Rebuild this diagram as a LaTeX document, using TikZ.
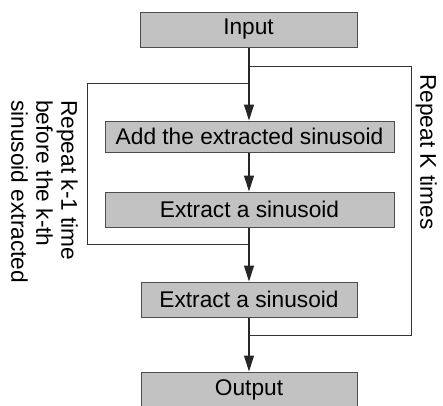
\documentclass[tikz,border=0pt]{standalone}
\usepackage{fontspec}
\setmainfont{Liberation Sans}
\usetikzlibrary{arrows.meta}
\begin{document}
\begin{tikzpicture}[x=1pt,y=-1pt,
  box/.style={draw=black!70,line width=1pt,fill=black!24,inner sep=0pt,
    font=\fontsize{22.7}{25}\selectfont},
  flow/.style={draw=black!85,line width=1.1pt,-{Triangle[length=16pt,width=10pt]}},
  loopline/.style={draw=black!80,line width=1pt},
  lbl/.style={rotate=-90,anchor=north west,inner sep=0pt,align=left,
    font=\fontsize{22.7}{25}\selectfont}]
\useasboundingbox (0,0) rectangle (443,405);
\node[box,minimum width=217pt,minimum height=35pt] (in) at (248.5,29.5) {Input};
\node[box,minimum width=289pt,minimum height=31pt] (add) at (249.5,136.5) {Add the extracted sinusoid};
\node[box,minimum width=289pt,minimum height=35pt] (ex1) at (249.5,209.5) {Extract a sinusoid};
\node[box,minimum width=216pt,minimum height=35pt] (ex2) at (249,299.5) {Extract a sinusoid};
\node[box,minimum width=216pt,minimum height=35pt] (out) at (249,389.5) {Output};
\coordinate (a2) at (249,66);
\coordinate (a1) at (249,83);
\coordinate (b1) at (249,244);
\coordinate (b2) at (249,335);
\coordinate (lc) at (87,244);
\coordinate (rc) at (411,335);
\draw[loopline] (b1) -- (lc) |- (a1);
\draw[loopline] (b2) -- (rc) |- (a2);
\draw[flow] (in.south -| a1) -- (add.north -| a1);
\draw[flow] (add.south -| a1) -- (ex1.north -| a1);
\draw[flow] (ex1.south -| a1) -- (ex2.north -| a1);
\draw[flow] (ex2.south -| a1) -- (out.north -| a1);
\node[lbl] (ll) at (78,100) {Repeat k-1 time\\before the k-th\\sinusoid extracted};
\node[lbl] (rl) at (437,74) {Repeat K times};
\end{tikzpicture}
\end{document}
